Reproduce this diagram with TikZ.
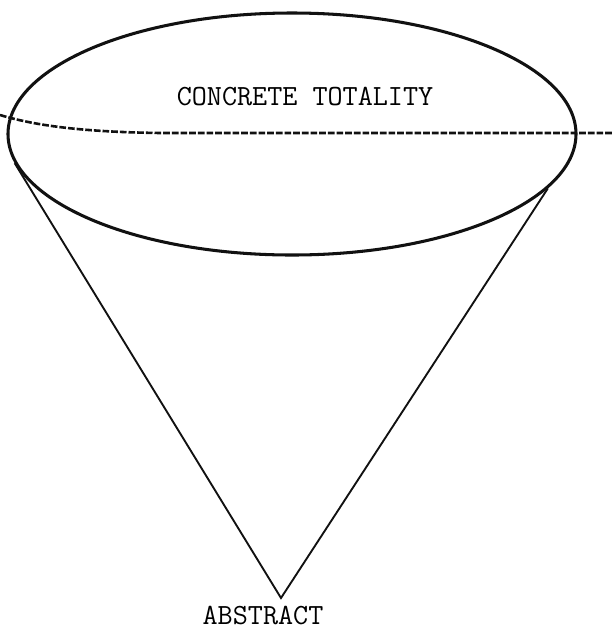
\documentclass[tikz,border=0pt]{standalone}
\usepackage{fontspec}
\usetikzlibrary{shapes.geometric}
\definecolor{inkblack}{HTML}{111111}

\begin{document}
\begin{tikzpicture}[x=0.03cm, y=-0.03cm, line width=1.6pt,
    rim/.style={draw=inkblack, ellipse, line width=2.6pt, inner sep=0pt,
      minimum width=17.04cm, minimum height=7.26cm},
    label/.style={font=\ttfamily\fontsize{25}{30}\selectfont, inner sep=0pt}]
  \useasboundingbox (0,0) rectangle (613,630);
  \node[rim] (totality) at (292,134) {};
  \node[label] (concrete) at (305,97) {CONCRETE TOTALITY};
  \coordinate (apex) at (281,598);
  \node[label] (abstract) at (263,616) {ABSTRACT};
  \draw[inkblack] (totality.186.8) -- (apex) -- (totality.348.6);
  \coordinate (dl) at (0,115);
  \coordinate (dr) at (613,133);
  \draw[inkblack, line width=2.2pt, dash pattern=on 0.2cm off 0.06cm]
    (dl) .. controls (40,127) and (90,132) .. (160,133) -- (dr);
\end{tikzpicture}
\end{document}
